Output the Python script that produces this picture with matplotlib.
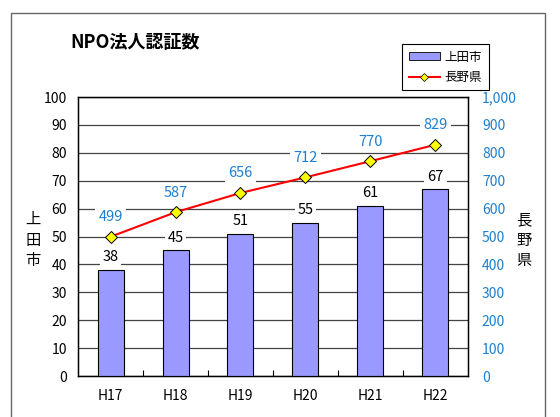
import matplotlib.pyplot as plt
from matplotlib.patches import Rectangle, Patch
from matplotlib.lines import Line2D
from matplotlib.ticker import FuncFormatter

plt.rcParams['font.family'] = ['Noto Sans CJK JP', 'DejaVu Sans']

years = ['H17', 'H18', 'H19', 'H20', 'H21', 'H22']
ueda = [38, 45, 51, 55, 61, 67]
nagano = [499, 587, 656, 712, 770, 829]

bar_color = '#9999FF'
blue = '#1E7FD0'

fig = plt.figure(figsize=(5.6, 4.17), dpi=100)
ax = fig.add_axes([78 / 560, 41 / 417, 390 / 560, 279 / 417])

x = list(range(len(years)))
ax.bar(x, ueda, width=0.4, color=bar_color, edgecolor='black', linewidth=0.8, zorder=3)
for xi, v in zip(x, ueda):
    ax.annotate(str(v), (xi, v), xytext=(0, 4), textcoords='offset points',
                ha='center', va='bottom', fontsize=10.5, color='black', zorder=5,
                bbox=dict(boxstyle='square,pad=0.2', facecolor='white', edgecolor='none'))

ax.set_xlim(-0.5, len(years) - 0.5)
ax.set_ylim(0, 100)
ax.set_yticks(range(0, 101, 10))
ax.set_xticks(x)
ax.set_xticklabels(years, fontsize=10)
ax.set_xticks([i + 0.5 for i in x[:-1]], minor=True)
ax.tick_params(axis='x', which='major', length=0, pad=9)
ax.tick_params(axis='x', which='minor', direction='in', length=4, width=0.8)
ax.tick_params(axis='y', length=0, labelsize=10, pad=8)
ax.yaxis.grid(True, color='#444444', linewidth=0.9, zorder=0)
ax.set_axisbelow(True)
for s in ax.spines.values():
    s.set_linewidth(1.0)

ax2 = ax.twinx()
ax2.plot(x, nagano, color='red', linewidth=1.5, marker='D', markersize=6,
         markerfacecolor='#FFFF00', markeredgecolor='black', markeredgewidth=0.7, zorder=4)
for xi, v in zip(x, nagano):
    ax2.annotate(str(v), (xi, v), xytext=(0, 9), textcoords='offset points',
                 ha='center', va='bottom', fontsize=10.5, color=blue,
                 bbox=dict(boxstyle='square,pad=0.2', facecolor='white', edgecolor='none'))
ax2.set_ylim(0, 1000)
ax2.set_yticks(range(0, 1001, 100))
ax2.yaxis.set_major_formatter(FuncFormatter(lambda v, p: '{:,}'.format(int(v))))
ax2.tick_params(axis='y', length=0, labelsize=10, labelcolor=blue, pad=10)

fig.text(33 / 560, 1 - 240 / 417, '上\n田\n市', ha='center', va='center', fontsize=11, linespacing=1.25)
fig.text(524 / 560, 1 - 240 / 417, '長\n野\n県', ha='center', va='center', fontsize=11, linespacing=1.25)
fig.text(70 / 560, 1 - 43 / 417, 'NPO法人認証数', ha='left', va='center', fontsize=13, fontweight='bold')

handles = [Patch(facecolor=bar_color, edgecolor='black', linewidth=0.6),
           Line2D([], [], color='red', linewidth=1.5, marker='D', markersize=4,
                  markerfacecolor='#FFFF00', markeredgecolor='black', markeredgewidth=0.5)]
leg = fig.legend(handles, ['上田市', '長野県'], loc='upper left',
                 bbox_to_anchor=(396 / 560, 1 - 38 / 417), fontsize=9,
                 fancybox=False, edgecolor='black', framealpha=1,
                 handlelength=2.5, handleheight=0.6, borderpad=0.5, labelspacing=0.6,
                 handletextpad=0.4)
leg.get_frame().set_linewidth(0.8)

fig.patches.append(Rectangle((11 / 560, -0.05), 534 / 560, 1 - 13 / 417 + 0.05,
                             transform=fig.transFigure, fill=False,
                             edgecolor='#666666', linewidth=1.0))

fig.savefig('out.png', dpi=100)
